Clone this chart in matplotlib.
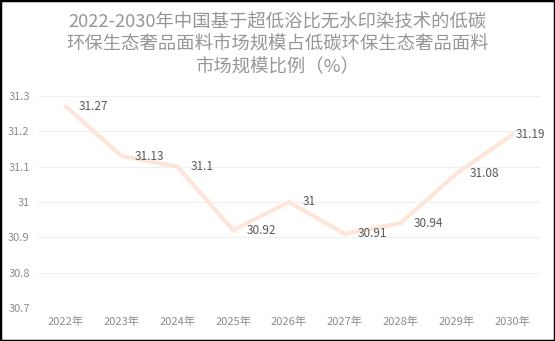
import matplotlib
matplotlib.use("Agg")
import matplotlib.pyplot as plt
from matplotlib.patches import Rectangle

plt.rcParams['font.family'] = ['Noto Sans CJK SC', 'DejaVu Sans']

years = ["2022年", "2023年", "2024年", "2025年", "2026年", "2027年", "2028年", "2029年", "2030年"]
share = [31.27, 31.13, 31.1, 30.92, 31.0, 30.91, 30.94, 31.08, 31.19]
yticks = [30.7, 30.8, 30.9, 31.0, 31.1, 31.2, 31.3]
ytick_labels = ["30.7", "30.8", "30.9", "31", "31.1", "31.2", "31.3"]
title = "2022-2030年中国基于超低浴比无水印染技术的低碳\n环保生态奢品面料市场规模占低碳环保生态奢品面料\n市场规模比例（%）"

fig = plt.figure(figsize=(5.55, 3.41), dpi=100)
ax = fig.add_axes([38/555, 1-308/341, (540-38)/555, (308-96)/341])

x = list(range(len(years)))
ax.plot(x, share, color='#fde6d8', linewidth=3, solid_joinstyle='miter', zorder=3)

labels = []
for xi, v in zip(x, share):
    lbl = f"{v:g}"
    t = ax.annotate(lbl, (xi, v), xytext=(9.5, 0), textcoords='offset points',
                    ha='left', va='center', fontsize=8.5, color='#595959', zorder=4)
    labels.append(t)

ax.set_xlim(-0.5, len(years) - 0.5)
ax.set_ylim(30.7, 31.3)
ax.set_yticks(yticks)
ax.set_yticklabels(ytick_labels)
ax.set_xticks(x)
ax.set_xticklabels(years)
ax.tick_params(axis='both', length=0, labelsize=8, colors='#8c8c8c')
ax.tick_params(axis='y', pad=6)
ax.tick_params(axis='x', pad=6)
ax.grid(axis='y', color='#f0f0f0', linewidth=0.8)
ax.set_axisbelow(True)
for s in ax.spines.values():
    s.set_visible(False)

fig.text(0.5, 1-45/341, title, ha='center', va='center', fontsize=13.2,
         color='#969696', linespacing=1.3)

fig.patches.append(Rectangle((0, 0), 1, 1, transform=fig.transFigure,
                             fill=False, edgecolor='black', linewidth=2.5))

# keep value labels inside the frame
fig.canvas.draw()
renderer = fig.canvas.get_renderer()
limit = fig.bbox.width - 10
for t in labels:
    bb = t.get_window_extent(renderer)
    if bb.x1 > limit:
        shift_pt = (bb.x1 - limit) * 72 / fig.dpi
        t.xyann = (t.xyann[0] - shift_pt, t.xyann[1])

fig.savefig("out.png", dpi=100)
